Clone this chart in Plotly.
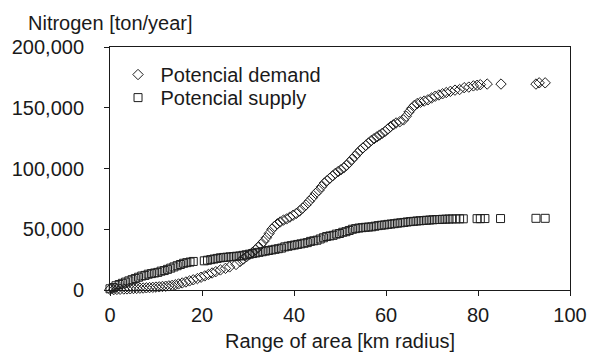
import plotly.graph_objects as go

# Range of area (km radius) and potential nitrogen demand (ton/year)
demand_km = [0.0, 0.8, 1.5, 2.2, 3.0, 3.7, 4.4, 5.1, 5.8, 6.5, 7.2, 7.9, 8.6, 9.3,
             10.0, 10.7, 11.4, 12.1, 12.8, 13.5, 14.2, 14.9, 15.7, 16.5, 17.3, 18.1,
             19.0, 19.8, 20.6, 21.4, 22.2, 23.0, 24.0, 25.1, 26.0, 27.4, 28.3, 29.0,
             29.7, 30.4, 31.0, 31.6, 32.2, 32.8, 33.4, 34.0, 34.6, 35.2, 35.8, 36.4,
             37.0, 37.7, 38.4, 39.1, 39.8, 40.5, 41.2, 41.9, 42.6, 43.3, 44.0, 44.7,
             45.4, 46.0, 46.6, 47.2, 47.8, 48.4, 49.0, 49.6, 50.2, 50.8, 51.4, 52.0,
             52.6, 53.2, 53.8, 54.4, 55.0, 55.6, 56.2, 56.8, 57.4, 58.0, 58.6, 59.2,
             59.8, 60.4, 61.0, 61.6, 62.2, 63.0, 63.8, 64.4, 65.0, 65.6, 66.2, 66.8,
             67.5, 68.3, 69.1, 69.9, 70.7, 71.5, 72.3, 73.1, 74.0, 75.0, 76.0, 77.0,
             78.0, 79.0, 79.8, 80.5, 82.0, 85.0, 92.6, 93.3, 94.6]
demand_t = [500, 300, 500, 600, 800, 900, 1000, 1200, 1300, 1500, 1600, 1800, 2000, 2200,
            2400, 2600, 2900, 3100, 3400, 3800, 4300, 5000, 5800, 6600, 7500, 8400,
            9400, 10500, 11600, 12800, 14000, 15100, 16500, 17800, 19000, 21000, 23500, 25500,
            27500, 29500, 31000, 33000, 35000, 37500, 40000, 43000, 46500, 50000, 52500, 54500,
            56000, 57500, 58500, 60000, 61500, 63000, 65000, 67500, 70000, 73000, 76000, 79500,
            82000, 85000, 88000, 90000, 92000, 94000, 96000, 97500, 99000, 100500, 102500, 105000,
            107500, 110000, 112500, 115000, 117000, 119000, 121000, 123000, 124500, 126000, 127500, 129000,
            130500, 132500, 134500, 136000, 137500, 138500, 140000, 143000, 146500, 149500, 152000, 153500,
            154500, 155500, 156500, 158000, 159500, 160500, 161500, 162500, 163500, 164500, 165000, 166500,
            167000, 168000, 168500, 169000, 169500, 169500, 169500, 170500, 170500]

# Range of area (km radius) and potential nitrogen supply (ton/year)
supply_km = [0.0, 0.7, 1.3, 2.0, 2.7, 3.4, 4.1, 4.8, 5.5, 6.2, 6.9, 7.6, 8.3, 9.0,
             9.7, 10.4, 11.1, 11.8, 12.5, 13.2, 13.9, 14.6, 15.3, 16.0, 16.7, 17.4,
             18.1, 20.5, 21.2, 21.9, 22.6, 23.3, 24.0, 24.7, 25.4, 26.1, 26.8, 27.5,
             28.2, 28.9, 29.6, 30.3, 31.0, 31.7, 32.4, 33.1, 33.8, 34.5, 35.2, 35.9,
             36.6, 37.3, 38.0, 38.7, 39.4, 40.1, 40.8, 41.5, 42.2, 42.9, 43.6, 44.3,
             45.0, 45.7, 46.4, 47.1, 47.8, 48.5, 49.2, 49.9, 50.6, 51.3, 52.0, 52.7,
             53.4, 54.1, 54.8, 55.5, 56.2, 56.9, 57.6, 58.3, 59.0, 59.7, 60.4, 61.1,
             61.8, 62.5, 63.2, 63.9, 64.6, 65.3, 66.0, 66.7, 67.4, 68.1, 68.8, 69.5,
             70.2, 70.9, 71.6, 72.3, 73.0, 73.7, 74.4, 75.2, 76.0, 76.8, 79.8, 80.5,
             81.5, 84.9, 92.6, 94.6]
supply_t = [1000, 2000, 3500, 4500, 5500, 6500, 7500, 8500, 9500, 10500, 11500, 12000, 13000, 13500,
            14000, 14500, 15500, 16000, 17000, 18000, 19000, 20000, 21000, 22000, 22500, 23000,
            23500, 24000, 24500, 25000, 25500, 26000, 26500, 26800, 27000, 27300, 27500, 27800,
            28000, 28500, 29000, 29500, 30000, 30500, 31000, 31500, 32000, 32500, 33000, 33500,
            34000, 34500, 35500, 36000, 36500, 37000, 37500, 38000, 38500, 39000, 40000, 40500,
            41000, 42000, 43000, 44000, 44500, 45000, 46000, 46500, 47500, 48000, 49000, 50000,
            50500, 51000, 51300, 51600, 51800, 52000, 52500, 53000, 53300, 53600, 54000, 54300,
            54600, 55000, 55300, 55600, 56000, 56300, 56500, 56800, 57000, 57200, 57400, 57600,
            57800, 58000, 58000, 58200, 58300, 58400, 58500, 58500, 58600, 58600, 58700, 58700,
            58800, 58800, 59000, 59000]

y_ticks = [0, 50000, 100000, 150000, 200000]
x_ticks = [0, 20, 40, 60, 80, 100]

FONT = "Liberation Sans, Arial, Helvetica, sans-serif"
INK = "#1a1a1a"
EDGE = "#1e1e1e"

fig = go.Figure()
fig.add_trace(go.Scatter(
    x=demand_km, y=demand_t, mode="markers", name="Potencial demand",
    cliponaxis=False, legend="legend",
    marker=dict(symbol="diamond-open", size=8, color=EDGE, line=dict(width=1, color=EDGE)),
))
fig.add_trace(go.Scatter(
    x=supply_km, y=supply_t, mode="markers", name="Potencial supply",
    cliponaxis=False, legend="legend2",
    marker=dict(symbol="square-open", size=8, color=EDGE, line=dict(width=1, color=EDGE)),
))

axis_common = dict(
    showline=True, linecolor=INK, linewidth=1, mirror=True,
    showgrid=False, zeroline=False,
    ticks="outside", ticklen=5, tickcolor=INK, tickwidth=1,
    tickfont=dict(family=FONT, size=20, color=INK),
)

fig.update_xaxes(range=[0, 100], tickvals=x_ticks, ticklabelstandoff=2, **axis_common)
fig.update_yaxes(range=[0, 200000], tickvals=y_ticks, tickformat=",d",
                 ticklabelstandoff=16, **axis_common)

fig.add_annotation(text="Nitrogen [ton/year]", xref="paper", yref="paper",
                   x=-0.183, y=1.10, xanchor="left", yanchor="middle",
                   showarrow=False, font=dict(family=FONT, size=20, color=INK))
fig.add_annotation(text="Range of area [km radius]", xref="paper", yref="paper",
                   x=0.5, y=-0.21, xanchor="center", yanchor="middle",
                   showarrow=False, font=dict(family=FONT, size=20, color=INK))

legend_common = dict(xanchor="left", yanchor="top", bgcolor="rgba(0,0,0,0)",
                     borderwidth=0, itemwidth=35,
                     font=dict(family=FONT, size=20, color=INK))

fig.update_layout(
    width=599, height=362,
    margin=dict(l=107, r=23, t=47, b=72),
    paper_bgcolor="white", plot_bgcolor="white",
    font=dict(family=FONT, size=20, color=INK),
    showlegend=True,
    legend=dict(x=0.012, y=0.967, **legend_common),
    legend2=dict(x=0.012, y=0.872, **legend_common),
)

fig.write_html("out.html")
